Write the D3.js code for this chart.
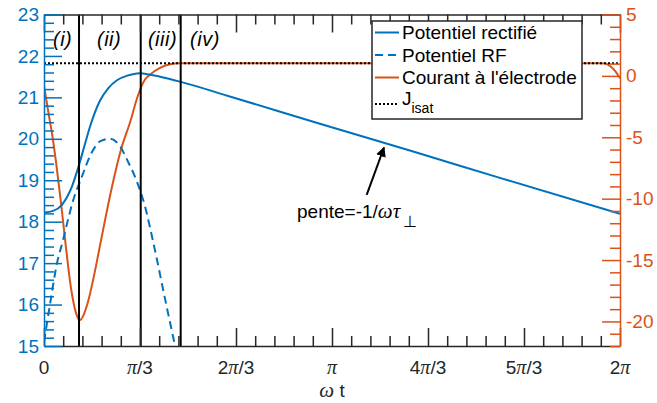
<!DOCTYPE html>
<html>
<head>
<meta charset="utf-8">
<script src="https://cdn.jsdelivr.net/npm/d3@7"></script>
<style>
  body { margin: 0; background: #fff; }
  text { font-family: "Liberation Sans", Arial, sans-serif; }
</style>
</head>
<body>
<script>
const PI = Math.PI;

// omega*t in rad
var rectT = [0, 0.1, 0.2, 0.3, 0.382, 0.45, 0.51, 0.61, 0.70, 0.80, 0.90, 0.97, 1.047, 1.15, 1.30, 1.483, 2.0, 3.0, 4.0, 5.0, 6.283];
var rectV = [18.22, 18.26, 18.42, 18.82, 19.37, 19.9, 20.35, 20.92, 21.22, 21.42, 21.52, 21.56, 21.58, 21.55, 21.48, 21.38, 21.04, 20.37, 19.71, 19.04, 18.19];

var rfT = [0, 0.065, 0.142, 0.207, 0.262, 0.316, 0.407, 0.516, 0.62, 0.72, 0.82, 0.916, 1.025, 1.098, 1.192, 1.338, 1.43];
var rfV = [15.1, 16.0, 17.0, 17.55, 18.05, 18.5, 19.05, 19.65, 19.95, 20.0, 19.85, 19.45, 18.9, 18.4, 17.5, 15.95, 15.0];

var courT = [0, 0.044, 0.098, 0.131, 0.185, 0.240, 0.295, 0.349, 0.389, 0.436, 0.480, 0.553, 0.622, 0.731, 0.840, 0.938, 1.025, 1.102, 1.156, 1.265, 1.374, 1.484, 1.702, 3.883, 6.043, 6.12, 6.174, 6.229, 6.283];
var courJ = [-0.8, -2.8, -5.2, -7.0, -10.3, -14.0, -17.3, -19.3, -19.9, -19.4, -18.4, -16.0, -13.4, -9.4, -6.0, -3.8, -1.6, -0.3, 0.1, 0.65, 0.95, 1.02, 1.03, 1.03, 1.03, 1.0, 0.8, 0.4, -0.2];

var jisat = 1.03;

// region boundaries (rad) and labels
var bounds = [0.382, 1.055, 1.491];
var regionLabels = ["(i)", "(ii)", "(iii)", "(iv)"];
var regionT = [0.098, 0.578, 1.134, 1.593];

var xTickLabels = ["0", "π/3", "2π/3", "π", "4π/3", "5π/3", "2π"];
var legendLabels = ["Potentiel rectifié", "Potentiel RF", "Courant à l'électrode", "J"];

var blue = "#0072BD", orange = "#D95319", ink = "#262626";
var w = 657, h = 403;
// note: "top" is taken by window.top, hence the p prefix
var pL = 44, pR = 620, pT = 14.5, pB = 346;

var svg = d3.select("body").append("svg")
  .attr("width", w).attr("height", h);

var x = d3.scaleLinear().domain([0, 2 * PI]).range([pL, pR]);
var yL = d3.scaleLinear().domain([15, 23]).range([pB, pT]);
var yR = d3.scaleLinear().domain([-22, 5]).range([pB, pT]);

svg.append("clipPath").attr("id", "clip")
  .append("rect").attr("x", pL).attr("y", pT)
  .attr("width", pR - pL).attr("height", pB - pT);

var plot = svg.append("g").attr("clip-path", "url(#clip)");

var lineL = d3.line().x(d => x(d[0])).y(d => yL(d[1])).curve(d3.curveMonotoneX);
var lineR = d3.line().x(d => x(d[0])).y(d => yR(d[1])).curve(d3.curveMonotoneX);

plot.append("path")
  .datum(d3.zip(courT, courJ))
  .attr("d", lineR)
  .attr("fill", "none").attr("stroke", orange).attr("stroke-width", 2);

plot.append("path")
  .datum(d3.zip(rectT, rectV))
  .attr("d", lineL)
  .attr("fill", "none").attr("stroke", blue).attr("stroke-width", 2);

plot.append("path")
  .datum(d3.zip(rfT, rfV))
  .attr("d", lineL)
  .attr("fill", "none").attr("stroke", blue).attr("stroke-width", 2)
  .attr("stroke-dasharray", "8,5");

// J_isat dotted, on top of the current
plot.append("line")
  .attr("x1", x(0)).attr("x2", x(2 * PI))
  .attr("y1", yR(jisat)).attr("y2", yR(jisat))
  .attr("stroke", "#000").attr("stroke-width", 2)
  .attr("stroke-dasharray", "2,2");

// region boundaries
plot.selectAll(".bound")
  .data(bounds)
  .enter().append("line")
  .attr("class", "bound")
  .attr("x1", d => x(d)).attr("x2", d => x(d))
  .attr("y1", pT).attr("y2", pB)
  .attr("stroke", "#000").attr("stroke-width", 2);

svg.selectAll(".region")
  .data(regionLabels)
  .enter().append("text")
  .attr("class", "region")
  .attr("x", (d, i) => x(regionT[i]))
  .attr("y", 46)
  .style("font-size", "20px")
  .style("font-style", "italic")
  .style("letter-spacing", "0.5px")
  .attr("fill", "#000")
  .text(d => d);

// axes ---------------------------------------------------------------
var xMajor = d3.range(0, 7).map(k => k * PI / 3);
var xMinor = d3.range(0, 31).filter(k => k % 5 != 0).map(k => k * PI / 15);

function styleAxis(g, color) {
  g.select(".domain").attr("stroke", color).attr("stroke-width", 1.5);
  g.selectAll(".tick line").attr("stroke", color).attr("stroke-width", 1.5);
  g.selectAll(".tick text").attr("fill", color)
    .style("font-size", "19px").style("font-family", '"Liberation Sans", Arial, sans-serif');
}

// bottom and top
[[d3.axisBottom, pB], [d3.axisTop, pT]].forEach(([ax, yPos]) => {
  svg.append("g").attr("transform", `translate(0,${yPos})`)
    .call(ax(x).tickValues(xMajor).tickSize(-18).tickSizeOuter(0).tickFormat(""))
    .call(g => styleAxis(g, ink));
  svg.append("g").attr("transform", `translate(0,${yPos})`)
    .call(ax(x).tickValues(xMinor).tickSize(-10).tickSizeOuter(0).tickFormat(""))
    .call(g => styleAxis(g, ink))
    .call(g => g.select(".domain").remove());
});

// x tick labels with pi in serif
var xl = svg.append("g");
xMajor.forEach((v, i) => {
  var t = xl.append("text")
    .attr("x", x(v)).attr("y", 374)
    .attr("text-anchor", "middle")
    .attr("fill", ink)
    .style("font-size", "19px");
  xTickLabels[i].split(/(π)/).filter(s => s.length).forEach(s => {
    var ts = t.append("tspan").text(s);
    if (s == "π") ts.style("font-family", '"Liberation Serif", serif').style("font-style", "italic").style("font-size", "20px");
  });
});

// left (blue)
svg.append("g").attr("transform", `translate(${pL},0)`)
  .call(d3.axisLeft(yL).tickValues(d3.range(15, 24)).tickSize(-18).tickSizeOuter(0).tickPadding(5).tickFormat(d => d))
  .call(g => styleAxis(g, blue));
svg.append("g").attr("transform", `translate(${pL},0)`)
  .call(d3.axisLeft(yL).tickValues(d3.range(0, 41).filter(k => k % 5 != 0).map(k => 15 + k * 0.2)).tickSize(-10).tickSizeOuter(0).tickFormat(""))
  .call(g => styleAxis(g, blue))
  .call(g => g.select(".domain").remove());

// right (orange)
svg.append("g").attr("transform", `translate(${pR},0)`)
  .call(d3.axisRight(yR).tickValues([-20, -15, -10, -5, 0, 5]).tickSize(-18).tickSizeOuter(0).tickPadding(6).tickFormat(d => String(d)))
  .call(g => styleAxis(g, orange));
svg.append("g").attr("transform", `translate(${pR},0)`)
  .call(d3.axisRight(yR).tickValues(d3.range(-22, 6).filter(k => k % 5 != 0)).tickSize(-10).tickSizeOuter(0).tickFormat(""))
  .call(g => styleAxis(g, orange))
  .call(g => g.select(".domain").remove());

// x label
var xlab = svg.append("text")
  .attr("x", 332).attr("y", 397)
  .attr("text-anchor", "middle")
  .attr("fill", ink)
  .style("font-size", "19px");
xlab.append("tspan").text("ω").style("font-family", '"Liberation Serif", serif').style("font-style", "italic").style("font-size", "21px");
xlab.append("tspan").text(" t");

// slope annotation
var ann = svg.append("text")
  .attr("x", x(2.76)).attr("y", yL(18.09))
  .attr("fill", "#000")
  .style("font-size", "19px");
ann.append("tspan").text("pente=-1/");
ann.append("tspan").text("ωτ").style("font-family", '"Liberation Serif", serif').style("font-style", "italic").style("font-size", "21px");
ann.append("tspan").text("⊥").attr("dy", 9).attr("dx", 3).style("font-size", "16px");

svg.append("defs").append("marker")
  .attr("id", "arrow").attr("viewBox", "0 0 10 10")
  .attr("refX", 9).attr("refY", 5)
  .attr("markerWidth", 5).attr("markerHeight", 5)
  .attr("orient", "auto")
  .append("path").attr("d", "M0,0 L10,5 L0,10 z").attr("fill", "#000");

svg.append("line")
  .attr("x1", x(3.52)).attr("y1", yL(18.645))
  .attr("x2", x(3.709)).attr("y2", yL(19.79))
  .attr("stroke", "#000").attr("stroke-width", 2)
  .attr("marker-end", "url(#arrow)");

// legend
var legend = svg.append("g").attr("transform", "translate(372,21)");
legend.append("rect")
  .attr("width", 210).attr("height", 98)
  .attr("fill", "#fff").attr("stroke", ink).attr("stroke-width", 1.5);

var rowY = [11.5, 34, 56.5, 83];
var rowStyle = [
  { c: blue, dash: null },
  { c: blue, dash: "8,5" },
  { c: orange, dash: null },
  { c: "#000", dash: "2,2" }
];
legendLabels.forEach((lab, i) => {
  legend.append("line")
    .attr("x1", 3).attr("x2", 27)
    .attr("y1", rowY[i]).attr("y2", rowY[i])
    .attr("stroke", rowStyle[i].c).attr("stroke-width", 2)
    .attr("stroke-dasharray", rowStyle[i].dash);
  var t = legend.append("text")
    .attr("x", 30).attr("y", i < 3 ? rowY[i] + 6.5 : rowY[i] + 1)
    .attr("fill", "#000")
    .style("font-size", "19px")
    .text(lab);
  if (i == 3) t.append("tspan").text("isat").attr("dy", 8).style("font-size", "14px");
});
</script>
</body>
</html>
